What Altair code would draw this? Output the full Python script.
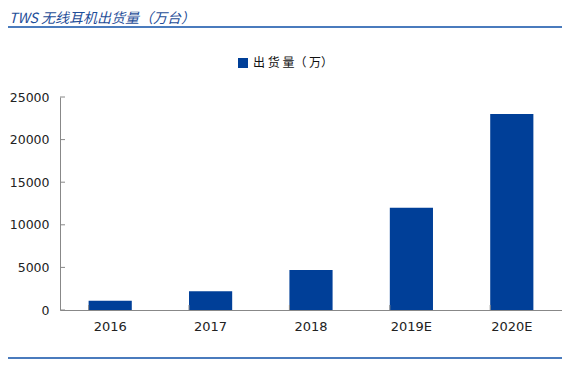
import altair as alt
import pandas as pd

years = ["2016", "2017", "2018", "2019E", "2020E"]
shipments = [1100, 2200, 4700, 12000, 23000]
series_name = "出 货 量（ 万）"
y_ticks = [0, 5000, 10000, 15000, 20000, 25000]
title_text = "TWS 无线耳机出货量（万台）"

df = pd.DataFrame({"year": years, "value": shipments, "series": [series_name] * len(years)})
tick_df = pd.DataFrame({"v": y_ticks})

W, H = 502, 213
FONT = "DejaVu Sans"
CJK = "Noto Sans CJK SC"

x_enc = alt.X("year:N", sort=years,
              scale=alt.Scale(paddingInner=0.57, paddingOuter=0.285),
              axis=alt.Axis(title=None, labelAngle=0, ticks=False, labelPadding=10,
                            labelFontSize=13, labelFont=FONT, labelColor="#222222",
                            domainColor="#888888"))
y_scale = alt.Scale(domain=[0, 25000], nice=False)

bars = alt.Chart(df).mark_bar(color="#003f98").encode(
    x=x_enc,
    y=alt.Y("value:Q", scale=y_scale,
            axis=alt.Axis(title=None, values=y_ticks, format="d", ticks=False, grid=False,
                          labelPadding=11, labelFontSize=12.5, labelFont=FONT,
                          labelColor="#222222", domainColor="#888888")),
    color=alt.Color("series:N", scale=alt.Scale(range=["#003f98"]),
                    legend=alt.Legend(orient="none", legendX=177, legendY=-40, title=None,
                                      symbolType="square", symbolSize=100,
                                      symbolStrokeWidth=0,
                                      labelFontSize=12, labelFont=CJK,
                                      labelColor="#111111")),
)

yticks = alt.Chart(tick_df).mark_rule(color="#888888").encode(
    y=alt.Y("v:Q", scale=y_scale),
    x=alt.value(0), x2=alt.value(5),
)

xticks = alt.Chart(df).mark_rule(color="#888888").encode(
    x=alt.X("year:N", sort=years, bandPosition=0),
    y=alt.value(H), y2=alt.value(H - 5),
)

one = alt.Data(values=[{"a": 1}])
top_line = alt.Chart(one).mark_rule(color="#4a7bbd", strokeWidth=2).encode(
    x=alt.value(-52), x2=alt.value(W), y=alt.value(-70))
bottom_line = alt.Chart(one).mark_rule(color="#4a7bbd", strokeWidth=2).encode(
    x=alt.value(-52), x2=alt.value(W), y=alt.value(261))
title = alt.Chart(one).mark_text(align="left", baseline="middle", fontSize=14,
                                 fontStyle="italic", font=CJK, color="#1f4e99").encode(
    x=alt.value(-51), y=alt.value(-78), text=alt.value(title_text))

chart = alt.layer(bars, yticks, xticks, top_line, bottom_line, title).properties(
    width=W, height=H,
    autosize=alt.AutoSizeParams(type="none"),
    padding={"left": 52, "top": 89, "right": 0, "bottom": 49},
).configure_view(stroke=None)

chart.save("out.html", embed_options={"renderer": "svg", "actions": False})
